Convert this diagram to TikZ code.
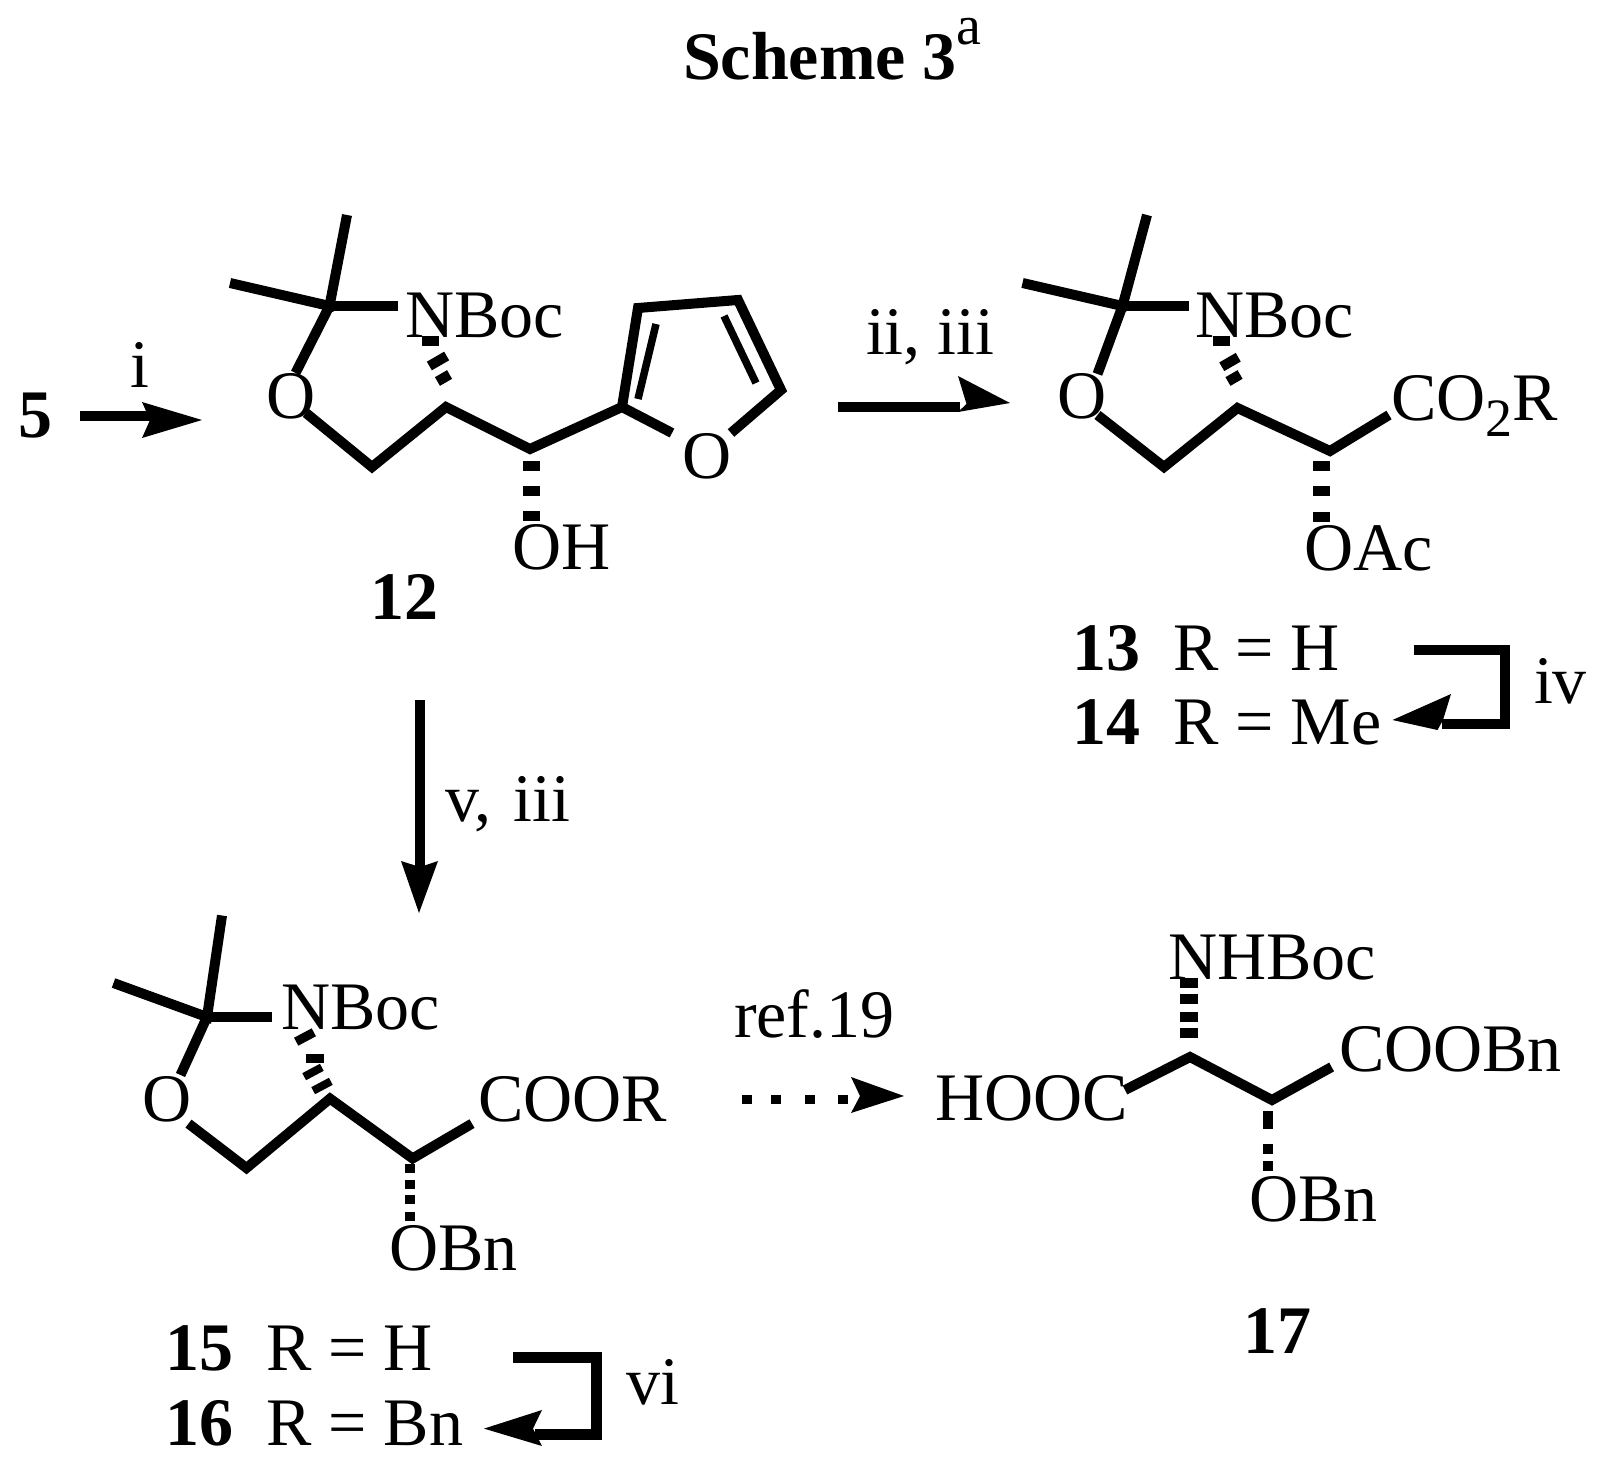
\documentclass[tikz,border=0pt]{standalone}
\usepackage{fontspec}
\setmainfont{Liberation Serif}
\newcommand{\fz}{\fontsize{68}{80}\selectfont}
\newcommand{\subtwo}{\raisebox{-16pt}{\fontsize{54}{54}\selectfont 2}}
\newcommand{\hashrect}[5]{\fill[shift={(#1,#2)},rotate=#5] (-#3/2,-#4/2) rectangle (#3/2,#4/2);}
\tikzset{
  x=1pt,y=-1pt,
  lab/.style={anchor=base west,inner sep=0pt,outer sep=0pt,font=\fz,text=black,xshift=-2pt},
  blab/.style={lab,font=\fz\bfseries},
  bond/.style={line width=10pt,line cap=butt,line join=miter,miter limit=10,draw=black},
  thinbond/.style={line width=7.5pt,line cap=butt,draw=black},
  arrowline/.style={line width=10pt,line cap=butt,line join=miter,draw=black},
  head/.style={fill=black,draw=none}
}
\begin{document}
\begin{tikzpicture}
\useasboundingbox (0,0) rectangle (1604,1466);
\fill[white] (0,0) rectangle (1604,1466);
% title
\node[blab] (title) at (685,80) {Scheme 3\raisebox{35pt}{\fontsize{56}{56}\selectfont\mdseries a}};
% --- compound 5 and arrow i
\node[blab] (n5) at (21,437) {5};
\node[lab] (ri) at (132,387) {i};
\coordinate (a1s) at (80,416); \coordinate (a1e) at (151,416);
\draw[arrowline] (a1s) -- (a1e);
\coordinate (a1t) at (202,420); \coordinate (a1u) at (142,402); \coordinate (a1n) at (150,420); \coordinate (a1d) at (142,438);
\fill[head] (a1t) -- (a1u) -- (a1n) -- (a1d) -- cycle;
% --- compound 12
\node[lab] (o12) at (268,418) {O};
\node[lab] (nb12) at (407,337) {NBoc};
\node[lab] (oh12) at (514,569) {OH};
\node[lab] (of12) at (684,478) {O};
\node[blab] (l12) at (372,619) {12};
\coordinate (q12) at (329.5,306);
\coordinate (mu12) at (347,215); \coordinate (ml12) at (230,283); \coordinate (ne12) at (397.5,306);
\coordinate (oe12) at (295.5,373); \coordinate (os12) at (306,413);
\coordinate (c12) at (372,467); \coordinate (d12) at (446,407); \coordinate (e12) at (530,449); \coordinate (f12) at (622,407);
\coordinate (g12) at (638,308); \coordinate (h12) at (738,300); \coordinate (i12) at (781,390);
\coordinate (j12) at (731,433); \coordinate (k12) at (672,433);
\coordinate (p12) at (656,324); \coordinate (r12) at (638,399);
\coordinate (s12) at (724,316); \coordinate (t12) at (756,383);
\draw[bond] (mu12) -- (q12) -- (ml12);
\draw[bond] (q12) -- (ne12);
\draw[bond] (q12) -- (oe12);
\draw[bond] (os12) -- (c12) -- (d12) -- (e12) -- (f12) -- (k12);
\draw[bond] (f12) -- (g12) -- (h12) -- (i12) -- (j12);
\draw[thinbond] (p12) -- (r12);
\draw[thinbond] (s12) -- (t12);
\hashrect{430}{341}{17}{10}{0}
\hashrect{438}{361}{20}{10}{30}
\hashrect{443.5}{378}{14}{10}{30}
\hashrect{531}{466}{17}{10}{0}
\hashrect{531}{491}{17}{10}{0}
\hashrect{531}{516}{17}{10}{0}
% --- arrow ii, iii
\node[lab] (r23) at (868,354) {ii, iii};
\coordinate (a2s) at (837.5,407); \coordinate (a2e) at (960,407);
\draw[arrowline] (a2s) -- (a2e);
\coordinate (a2t) at (1010,403); \coordinate (a2u) at (958,376); \coordinate (a2n) at (966.5,404); \coordinate (a2d) at (958,412);
\fill[head] (a2t) -- (a2u) -- (a2n) -- (a2d) -- cycle;
% --- compound 13/14
\node[lab] (o13) at (1059,418) {O};
\node[lab] (nb13) at (1197,337) {NBoc};
\node[lab] (co13) at (1393,420) {CO\subtwo R};
\node[lab] (oa13) at (1306,570) {OAc};
\node[blab] (l13) at (1074,670) {13};
\node[lab] (r13) at (1175,670) {R = H};
\node[blab] (l14) at (1074,744.5) {14};
\node[lab] (r14) at (1175,744.5) {R = Me};
\coordinate (q13) at (1122.5,306);
\coordinate (mu13) at (1147,215); \coordinate (ml13) at (1022.5,283); \coordinate (ne13) at (1189,306);
\coordinate (oe13) at (1097.5,374); \coordinate (os13) at (1097.5,415);
\coordinate (c13) at (1164,467); \coordinate (d13) at (1237.5,408); \coordinate (e13) at (1330,451); \coordinate (f13) at (1389,415);
\draw[bond] (mu13) -- (q13) -- (ml13);
\draw[bond] (q13) -- (ne13);
\draw[bond] (q13) -- (oe13);
\draw[bond] (os13) -- (c13) -- (d13) -- (e13) -- (f13);
\hashrect{1221.5}{341}{17}{10}{0}
\hashrect{1230}{362}{19}{10}{30}
\hashrect{1234}{378}{14}{10}{30}
\hashrect{1321.5}{465.5}{17}{10}{0}
\hashrect{1321.5}{491}{17}{10}{0}
\hashrect{1321.5}{517}{17}{10}{0}
% arrow iv
\node[lab] (riv) at (1536,703.5) {iv};
\coordinate (b1) at (1413.5,650); \coordinate (b2) at (1505,650); \coordinate (b3) at (1505,724); \coordinate (b4) at (1442,724);
\draw[arrowline] (b1) -- (b2) -- (b3) -- (b4);
\coordinate (b5) at (1392.5,720); \coordinate (b6) at (1451,694); \coordinate (b7) at (1443,720); \coordinate (b8) at (1437.5,730);
\fill[head] (b5) -- (b6) -- (b7) -- (b8) -- cycle;
% --- arrow v, iii
\node[lab] (r53) at (447,821) {v,\hspace{5pt} iii};
\coordinate (a3s) at (420,700); \coordinate (a3e) at (420,868);
\draw[arrowline] (a3s) -- (a3e);
\coordinate (a3t) at (419,913); \coordinate (a3u) at (401,861); \coordinate (a3n) at (420,867); \coordinate (a3d) at (438,861);
\fill[head] (a3t) -- (a3u) -- (a3n) -- (a3d) -- cycle;
% --- compound 15/16
\node[lab] (o15) at (144,1121) {O};
\node[lab] (nb15) at (283,1029) {NBoc};
\node[lab] (co15) at (480,1121) {COOR};
\node[lab] (ob15) at (391,1270.5) {OBn};
\node[blab] (l15) at (167,1370) {15};
\node[lab] (r15) at (268,1370) {R = H};
\node[blab] (l16) at (167,1445) {16};
\node[lab] (r16) at (268,1445) {R = Bn};
\coordinate (q15) at (207,1017);
\coordinate (mu15) at (222,915.5); \coordinate (ml15) at (113.5,983); \coordinate (ne15) at (272,1017);
\coordinate (oe15) at (180.5,1075); \coordinate (os15) at (188.5,1123.6);
\coordinate (c15) at (246.5,1168); \coordinate (d15) at (330,1098.6); \coordinate (e15) at (412.6,1158.4); \coordinate (f15) at (472,1123.6);
\draw[bond] (mu15) -- (q15) -- (ml15);
\draw[bond] (q15) -- (ne15);
\draw[bond] (q15) -- (oe15);
\draw[bond] (os15) -- (c15) -- (d15) -- (e15) -- (f15);
\hashrect{305}{1037}{20}{9}{28}
\hashrect{315}{1058}{18}{9}{0}
\hashrect{313}{1072}{20}{8}{28}
\hashrect{322}{1086}{20}{8}{28}
\hashrect{409.5}{1168}{10}{9}{0}
\hashrect{409.5}{1184.5}{10}{9}{0}
\hashrect{409.5}{1199.5}{10}{9}{0}
\hashrect{409.5}{1216}{10}{9}{0}
% arrow vi
\node[lab] (rvi) at (628,1404) {vi};
\coordinate (v1) at (513,1357.6); \coordinate (v2) at (596,1357.6); \coordinate (v3) at (596,1434); \coordinate (v4) at (535,1434);
\draw[arrowline,line width=11pt] (v1) -- (v2) -- (v3) -- (v4);
\coordinate (v5) at (484,1428.6); \coordinate (v6) at (542,1410); \coordinate (v7) at (533,1428.6); \coordinate (v8) at (542,1446);
\fill[head] (v5) -- (v6) -- (v7) -- (v8) -- cycle;
% --- dotted arrow ref.19
\node[lab] (rref) at (736,1037) {ref.19};
\hashrect{746.5}{1099}{10}{9}{0}
\hashrect{776.4}{1099}{10}{9}{0}
\hashrect{810}{1099}{10}{9}{0}
\hashrect{843}{1099}{10}{9}{0}
\coordinate (a4t) at (904,1096); \coordinate (a4u) at (851,1077); \coordinate (a4n) at (860,1096); \coordinate (a4d) at (851,1113);
\fill[head] (a4t) -- (a4u) -- (a4n) -- (a4d) -- cycle;
% --- compound 17
\node[lab] (ho17) at (937,1120) {HOOC};
\node[lab] (nh17) at (1170,979) {NHBoc};
\node[lab] (co17) at (1341,1071) {COOBn};
\node[lab] (ob17) at (1251,1221) {OBn};
\node[blab] (l17) at (1245,1353) {17};
\coordinate (a17) at (1125,1090); \coordinate (b17) at (1190,1057); \coordinate (c17) at (1272,1100); \coordinate (d17) at (1331.6,1067);
\draw[bond] (a17) -- (b17) -- (c17) -- (d17);
\hashrect{1189}{983}{18}{9.5}{0}
\hashrect{1189}{999}{18}{9.5}{0}
\hashrect{1189}{1017}{18}{9.5}{0}
\hashrect{1189}{1033}{18}{9.5}{0}
\hashrect{1268}{1120}{10}{18}{0}
\hashrect{1268}{1149}{10}{10}{0}
\hashrect{1268}{1166}{10}{10}{0}
\end{tikzpicture}
\end{document}
